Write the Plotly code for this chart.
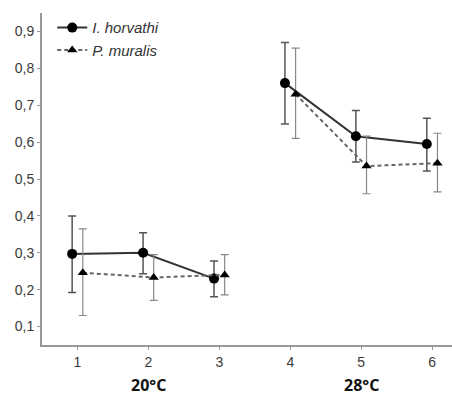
import plotly.graph_objects as go

groups = [1, 2, 3, 4, 5, 6]
group_labels = ["20°C", "28°C"]
group_label_pos = [2, 5]

horvathi_mean = [0.297, 0.300, 0.230, 0.760, 0.616, 0.595]
horvathi_hi = [0.400, 0.354, 0.278, 0.870, 0.686, 0.665]
horvathi_lo = [0.192, 0.243, 0.181, 0.649, 0.546, 0.522]

muralis_mean = [0.246, 0.233, 0.240, 0.730, 0.535, 0.543]
muralis_hi = [0.365, 0.295, 0.295, 0.855, 0.616, 0.624]
muralis_lo = [0.130, 0.171, 0.186, 0.610, 0.460, 0.465]

ytick_vals = [0.1, 0.2, 0.3, 0.4, 0.5, 0.6, 0.7, 0.8, 0.9]
ytick_text = ["0,1", "0,2", "0,3", "0,4", "0,5", "0,6", "0,7", "0,8", "0,9"]

offset = 0.075


def split(vals, off=0.0):
    # break the line between the two temperature groups
    out = []
    for i, v in enumerate(vals):
        if i == 3:
            out.append(None)
        out.append(v + off)
    return out


fig = go.Figure()

fig.add_trace(go.Scatter(
    x=split(groups, -offset), y=split(horvathi_mean),
    mode="lines+markers", name="I. horvathi",
    line=dict(color="#333333", width=2),
    marker=dict(symbol="circle", size=10, color="black"),
    error_y=dict(type="data", symmetric=False,
                 array=split([h - m for h, m in zip(horvathi_hi, horvathi_mean)]),
                 arrayminus=split([m - l for l, m in zip(horvathi_lo, horvathi_mean)]),
                 color="#555555", thickness=1.5, width=4),
    connectgaps=False,
))

fig.add_trace(go.Scatter(
    x=split(groups, offset), y=split(muralis_mean),
    mode="lines+markers", name="P. muralis",
    line=dict(color="#666666", width=2, dash="4px,3px"),
    marker=dict(symbol="triangle-up", size=9, color="black"),
    error_y=dict(type="data", symmetric=False,
                 array=split([h - m for h, m in zip(muralis_hi, muralis_mean)]),
                 arrayminus=split([m - l for l, m in zip(muralis_lo, muralis_mean)]),
                 color="#888888", thickness=1.2, width=4),
    connectgaps=False,
))

for lab, pos in zip(group_labels, group_label_pos):
    fig.add_annotation(x=pos, y=-0.16, xref="x", yref="paper", text="<b>" + lab + "</b>",
                       showarrow=False, font=dict(size=16, color="#111111", family="Open Sans"))

fig.update_layout(
    width=452, height=396,
    margin=dict(l=42, r=0, t=13, b=51),
    paper_bgcolor="white", plot_bgcolor="white",
    font=dict(family="Liberation Sans, Arial", color="#3a3a3a", size=14),
    showlegend=True,
    legend=dict(x=0.025, y=1.005, xanchor="left", yanchor="top",
                font=dict(size=15, color="#333333", family="Liberation Sans, Arial",
                          style="italic"),
                bgcolor="rgba(0,0,0,0)", tracegroupgap=0, itemwidth=30),
)

fig.update_xaxes(range=[0.5, 6.28], tickvals=groups, ticktext=[str(g) for g in groups],
                 showline=True, linecolor="#999999", linewidth=2, ticks="outside",
                 ticklen=3, tickcolor="#999999", showgrid=False, zeroline=False)
fig.update_yaxes(range=[0.05, 0.95], tickvals=ytick_vals, ticktext=ytick_text,
                 showline=True, linecolor="#999999", linewidth=2, ticks="outside",
                 ticklen=3, tickcolor="#999999", showgrid=False, zeroline=False)

fig.write_html("out.html")
